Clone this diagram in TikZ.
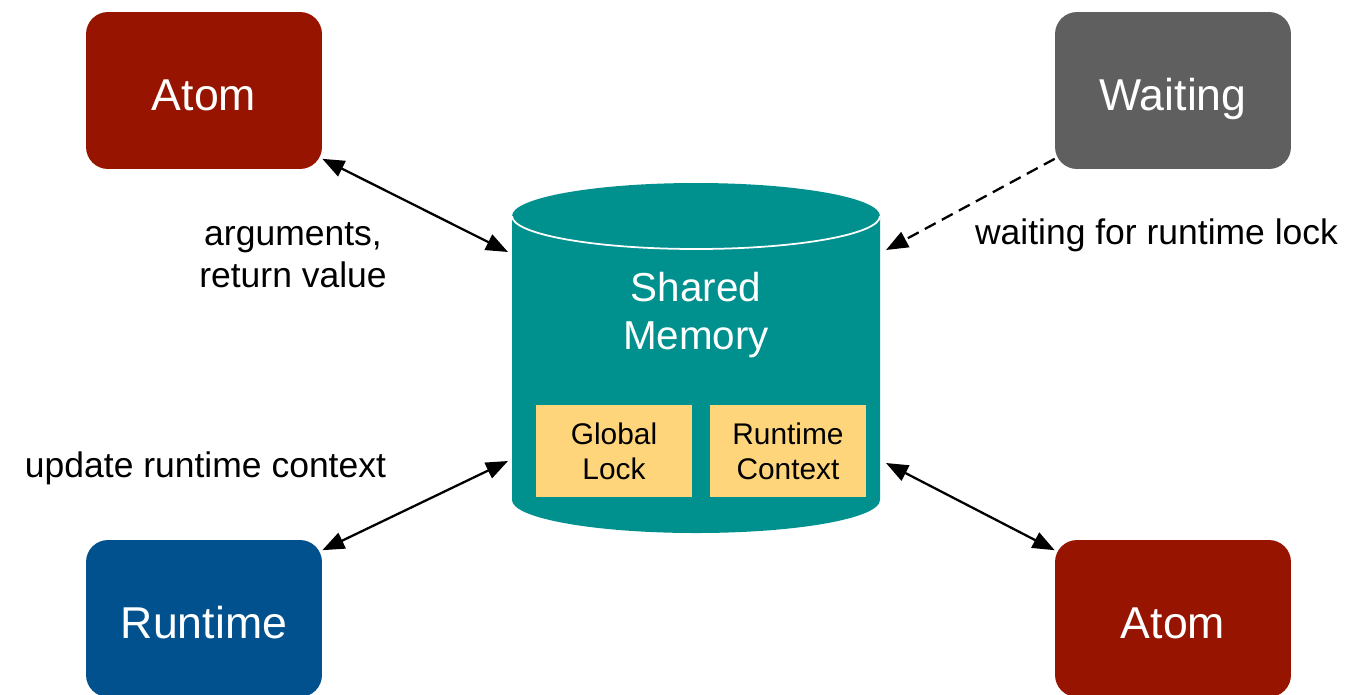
\documentclass[tikz,border=0pt]{standalone}
\usepackage{fontspec}
\setmainfont{Liberation Sans}
\usetikzlibrary{arrows.meta}
\definecolor{atomRed}{HTML}{961400}
\definecolor{waitGray}{HTML}{5F5F5F}
\definecolor{runtimeBlue}{HTML}{02518F}
\definecolor{memTeal}{HTML}{00918F}
\definecolor{partYellow}{HTML}{FFD57B}
\newcommand{\boxWidth}{4.72cm}
\newcommand{\boxHeight}{3.14cm}
\newcommand{\labelFont}{\fontsize{20.2}{24}\selectfont}

\begin{document}
\begin{tikzpicture}[x=0.02cm, y=-0.02cm,
    proc/.style={rounded corners=0.44cm, minimum width=\boxWidth, minimum height=\boxHeight,
      text height=23pt, text depth=0pt, text=white, font=\fontsize{25.4}{30}\selectfont},
    part/.style={fill=partYellow, minimum width=3.12cm, minimum height=1.84cm, inner sep=0pt,
      align=center, font=\fontsize{17}{20}\selectfont},
    link/.style={line width=1.3pt, >={Triangle[length=0.44cm, width=0.34cm]}}]
  \clip (0,0) rectangle (1372,694);

  \node[proc, fill=atomRed] (atomA) at (204,90.5) {Atom};
  \node[proc, fill=waitGray] (waiting) at (1173,90.5) {Waiting};
  \node[proc, fill=runtimeBlue] (runtime) at (204,618.5) {Runtime};
  \node[proc, fill=atomRed] (atomB) at (1173,618.5) {Atom};

  % shared memory drum
  \fill[memTeal] (512,216) -- (512,500) arc (180:0:184 and 33) -- (880,216)
    arc (0:-180:184 and 33) -- cycle;
  \draw[white, line width=1pt] (512,216) arc (180:0:184 and 33);
  \node[text=white, align=center, font=\fontsize{23}{27.5}\selectfont] (mem) at (696,315) {Shared\\Memory};
  \node[part] (lock) at (614,451) {Global\\Lock};
  \node[part] (ctx) at (788,451) {Runtime\\Context};

  \coordinate (memNW) at (508,252);
  \coordinate (memSW) at (508,461);
  \coordinate (memNE) at (886,250);
  \coordinate (memSE) at (886,463);

  \draw[link, <->] (atomA.-30) -- (memNW);
  \draw[link, ->, dash pattern=on 7pt off 4pt] (waiting.-150) -- (memNE);
  \draw[link, <->] (runtime.30) -- (memSW);
  \draw[link, <->] (atomB.150) -- (memSE);

  \node[align=center, font=\labelFont] (argsLabel) at (293,255) {arguments,\\return value};
  \node[font=\labelFont] (waitLabel) at (1156.5,235) {waiting for runtime lock};
  \node[font=\labelFont] (updLabel) at (205.5,468) {update runtime context};
\end{tikzpicture}
\end{document}
